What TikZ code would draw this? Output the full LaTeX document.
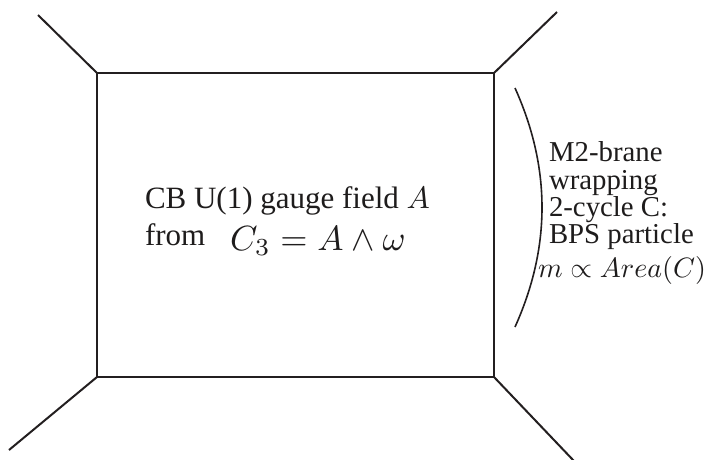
\documentclass[tikz,border=0pt]{standalone}
\usepackage[no-math]{fontspec}
\setmainfont{Liberation Serif}
\usepackage{graphicx}
\begin{document}
\begin{tikzpicture}[x=1pt,y=-1pt,
  edge/.style={line width=2pt,draw={rgb,255:red,35;green,31;blue,32},line cap=butt,line join=miter},
  arcline/.style={line width=1.6pt,draw={rgb,255:red,35;green,31;blue,32}},
  lbl/.style={anchor=base west,inner sep=0pt,outer sep=0pt,text={rgb,255:red,30;green,28;blue,28}}]
\useasboundingbox (0,0) rectangle (706,459);
\coordinate (tl) at (97,73);
\coordinate (tr) at (494,73);
\coordinate (bl) at (97,377);
\coordinate (br) at (494,377);
\coordinate (tlo) at (38,15);
\coordinate (tro) at (557,12);
\coordinate (blo) at (9,450);
\coordinate (bro) at (574,461);
\draw[edge] (tl) -- (tr) -- (br) -- (bl) -- cycle;
\draw[edge] (tl) -- (tlo);
\draw[edge] (tr) -- (tro);
\draw[edge] (bl) -- (blo);
\draw[edge] (br) -- (bro);
\coordinate (as) at (515,88);
\coordinate (ae) at (515,327);
\draw[arcline] (as) .. controls (551,168) and (551,247) .. (ae);
\node[lbl] (l1) at (145,208) {\scalebox{3.1}{CB U(1) gauge field $A$}};
\node[lbl] (l2) at (145,245) {\scalebox{3.1}{from}};
\node[lbl] (l3) at (230,250) {\scalebox{3.5}{$C_3 = A\wedge\omega$}};
\node[lbl] (r1) at (549,161) {\scalebox{2.88}{M2-brane}};
\node[lbl] (r2) at (549,189) {\scalebox{2.88}{wrapping}};
\node[lbl] (r3) at (549,216) {\scalebox{2.88}{2-cycle C:}};
\node[lbl] (r4) at (549,243) {\scalebox{2.88}{BPS particle}};
\node[lbl] (r5) at (538,277) {\scalebox{2.8}{$m\propto Area(C)$}};
\end{tikzpicture}
\end{document}
